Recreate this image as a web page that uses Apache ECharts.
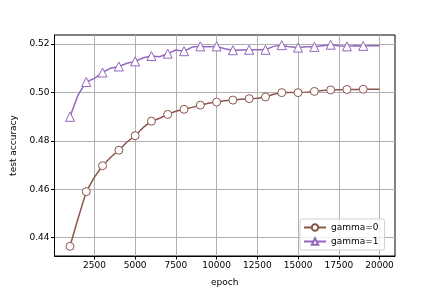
<!DOCTYPE html>
<html>
<head>
<meta charset="utf-8">
<script src="https://cdn.jsdelivr.net/npm/echarts@6/dist/echarts.min.js"></script>
<style>
html,body{margin:0;padding:0;background:#fff;}
#c{width:439px;height:293px;}
</style>
</head>
<body>
<div id="c"></div>
<script>
var epochs = [1000,1500,2000,2500,3000,3500,4000,4500,5000,5500,6000,6500,7000,7500,8000,8500,9000,9500,10000,10500,11000,11500,12000,12500,13000,13500,14000,14500,15000,15500,16000,16500,17000,17500,18000,18500,19000,19500,20000];
var gamma0 = [0.4364,0.4480,0.4590,0.4650,0.4697,0.4732,0.4761,0.4795,0.4821,0.4855,0.4881,0.4893,0.4909,0.4922,0.4930,0.4938,0.4947,0.4955,0.4960,0.4965,0.4968,0.4972,0.4974,0.4976,0.4981,0.4992,0.4999,0.4999,0.4999,0.5001,0.5004,0.5008,0.5010,0.5011,0.5012,0.5012,0.5013,0.5013,0.5013];
var gamma1 = [0.4899,0.4990,0.5043,0.5058,0.5082,0.5100,0.5107,0.5120,0.5128,0.5143,0.5150,0.5147,0.5160,0.5175,0.5170,0.5187,0.5190,0.5188,0.5190,0.5180,0.5174,0.5175,0.5176,0.5176,0.5176,0.5190,0.5195,0.5188,0.5185,0.5188,0.5188,0.5193,0.5197,0.5193,0.5190,0.5193,0.5192,0.5193,0.5193];
var markerEpochs = [1000,2000,3000,4000,5000,6000,7000,8000,9000,10000,11000,12000,13000,14000,15000,16000,17000,18000,19000];
var xTicks = [2500,5000,7500,10000,12500,15000,17500,20000];
var yTicks = [0.44,0.46,0.48,0.50,0.52];

function build(vals){
  return epochs.map(function(e,i){
    var d = {value:[e, vals[i]]};
    if (markerEpochs.indexOf(e) < 0) d.symbol = 'none';
    return d;
  });
}
var FONT = 'DejaVu Sans';
var chart = echarts.init(document.getElementById('c'), null, {renderer:'canvas'});
chart.setOption({
  animation:false,
  backgroundColor:'#fff',
  grid:{left:54.5, right:44, top:35, bottom:37, show:true, borderColor:'#000', borderWidth:1, backgroundColor:'transparent'},
  xAxis:{
    type:'value', min:50, max:20950,
    name:'epoch', nameLocation:'middle', nameGap:22,
    nameTextStyle:{fontFamily:FONT, fontSize:9, color:'#000'},
    axisLine:{show:true, lineStyle:{color:'#000', width:1}},
    axisTick:{show:true, customValues:xTicks, length:3.5, lineStyle:{color:'#000'}},
    axisLabel:{customValues:xTicks, fontFamily:FONT, fontSize:9, color:'#000', margin:5,
      formatter:function(v){return String(Math.round(v));}},
    splitLine:{show:true, lineStyle:{color:'#b0b0b0', width:1}}
  },
  yAxis:{
    type:'value', min:0.4324, max:0.5237,
    name:'test accuracy', nameLocation:'middle', nameGap:35, nameRotate:90,
    nameTextStyle:{fontFamily:FONT, fontSize:9, color:'#000'},
    axisLine:{show:true, lineStyle:{color:'#000', width:1}},
    axisTick:{show:true, customValues:yTicks, length:3.5, lineStyle:{color:'#000'}},
    axisLabel:{customValues:yTicks, fontFamily:FONT, fontSize:9, color:'#000', margin:5,
      formatter:function(v){return v.toFixed(2);}},
    splitLine:{show:true, lineStyle:{color:'#b0b0b0', width:1}}
  },
  legend:{
    left:300, top:219, orient:'vertical',
    itemWidth:22, itemHeight:8, itemGap:5,
    padding:[4,6,4,3],
    borderColor:'#d0d0d0', borderWidth:1, borderRadius:2,
    backgroundColor:'rgba(255,255,255,0.8)',
    textStyle:{fontFamily:FONT, fontSize:9, color:'#000'},
    data:['gamma=0','gamma=1']
  },
  series:[
    {name:'gamma=0', type:'line', data:build(gamma0), symbol:'circle', symbolSize:8,
     showAllSymbol:true,
     lineStyle:{color:'#8c564b', width:1.5},
     itemStyle:{color:'#fff', borderColor:'#8c564b', borderWidth:1}},
    {name:'gamma=1', type:'line', data:build(gamma1), symbol:'triangle', symbolSize:9,
     showAllSymbol:true,
     lineStyle:{color:'#9467bd', width:1.5},
     itemStyle:{color:'#fff', borderColor:'#9467bd', borderWidth:1}}
  ]
});
</script>
</body>
</html>
